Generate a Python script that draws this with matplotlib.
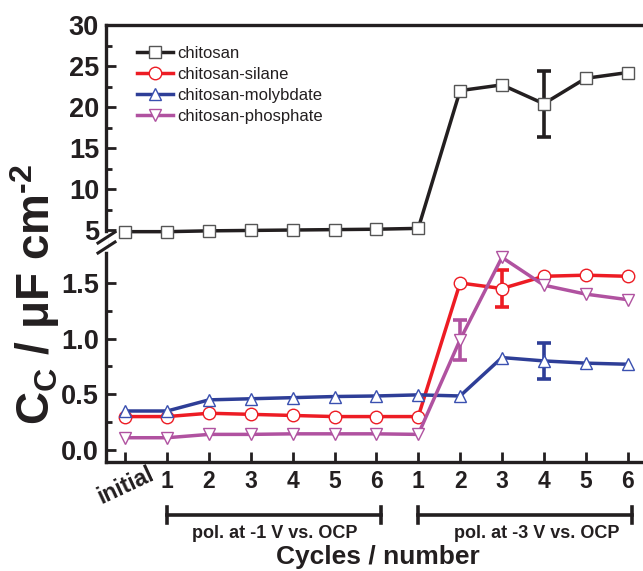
import matplotlib
matplotlib.use('Agg')
import matplotlib.pyplot as plt
import numpy as np
from matplotlib import transforms
from matplotlib.lines import Line2D

plt.rcParams['font.family'] = ['Liberation Sans', 'DejaVu Sans']
plt.rcParams['mathtext.fontset'] = 'custom'
plt.rcParams['mathtext.rm'] = 'Liberation Sans'
plt.rcParams['mathtext.bf'] = 'Liberation Sans:bold'
plt.rcParams['mathtext.it'] = 'Liberation Sans:italic'

# ---------------- data ----------------
x_labels = ['initial', '1', '2', '3', '4', '5', '6', '1', '2', '3', '4', '5', '6']
chitosan = [4.8, 4.8, 4.9, 4.95, 5.0, 5.05, 5.1, 5.2, 22.0, 22.7, 20.4, 23.5, 24.2]
chitosan_err = [0, 0, 0, 0, 0, 0, 0, 0, 0, 0, 4.0, 0, 0]
silane = [0.30, 0.30, 0.33, 0.32, 0.31, 0.30, 0.30, 0.30, 1.50, 1.45, 1.56, 1.57, 1.56]
silane_err = [0, 0, 0, 0, 0, 0, 0, 0, 0, 0.17, 0, 0, 0]
molybdate = [0.35, 0.35, 0.45, 0.46, 0.47, 0.48, 0.485, 0.495, 0.485, 0.83, 0.80, 0.78, 0.77]
molybdate_err = [0, 0, 0, 0, 0, 0, 0, 0, 0, 0, 0.165, 0, 0]
phosphate = [0.11, 0.11, 0.14, 0.14, 0.145, 0.145, 0.145, 0.14, 0.99, 1.73, 1.48, 1.40, 1.35]
phosphate_err = [0, 0, 0, 0, 0, 0, 0, 0, 0.18, 0, 0, 0, 0]
series_names = ['chitosan', 'chitosan-silane', 'chitosan-molybdate', 'chitosan-phosphate']
group_labels = ['pol. at -1 V vs. OCP', 'pol. at -3 V vs. OCP']

x = np.arange(len(x_labels))

W, H = 643, 571
fig = plt.figure(figsize=(W / 100, H / 100), dpi=100)

def fx(px):
    return px / W

def fy(py):
    return 1 - py / H

L = fx(106)
ax_top = fig.add_axes([L, fy(242), 1 - L, (242 - 25) / H])
ax_bot = fig.add_axes([L, fy(462), 1 - L, (462 - 244) / H])

xlim = (-0.46, 12.37)
INK = '#231f20'
for ax in (ax_top, ax_bot):
    ax.set_xlim(*xlim)
    ax.spines['right'].set_visible(False)
    for s in ax.spines.values():
        s.set_linewidth(2.4)
        s.set_color(INK)
    ax.tick_params(axis='y', which='major', direction='in', length=7, width=2,
                   pad=5, color=INK)
    ax.tick_params(axis='y', which='minor', direction='in', length=4, width=2,
                   color=INK)

ax_top.spines['bottom'].set_visible(False)
ax_bot.spines['top'].set_visible(False)
ax_top.set_ylim(3.54, 30)
ax_bot.set_ylim(-0.108, 1.85)

ax_top.set_yticks([5, 10, 15, 20, 25, 30])
ax_top.set_yticks([7.5, 12.5, 17.5, 22.5, 27.5], minor=True)
ax_top.set_yticklabels(['5', '10', '15', '20', '25', '30'], fontweight='bold',
                       fontsize=19.5, color=INK)
ax_top.set_xticks([])

ax_bot.set_yticks([0.0, 0.5, 1.0, 1.5])
ax_bot.set_yticks([0.25, 0.75, 1.25], minor=True)
ax_bot.set_yticklabels(['0.0', '0.5', '1.0', '1.5'], fontweight='bold', fontsize=19.5,
                       color=INK)
ax_bot.set_xticks(x)
ax_bot.set_xticklabels(x_labels, fontweight='bold', fontsize=16.5, color=INK)
ax_bot.tick_params(axis='x', direction='in', length=7, width=2, pad=6, color=INK)
first = ax_bot.get_xticklabels()[0]
first.set_rotation(25)
first.set_ha('center')
first.set_va('center')
first.set_y(-0.07)

styles = [
    (ax_top, chitosan, chitosan_err, INK, 's', '#555555'),
    (ax_bot, silane, silane_err, '#ed1c24', 'o', '#ed1c24'),
    (ax_bot, molybdate, molybdate_err, '#2e3e97', '^', '#3a50b0'),
    (ax_bot, phosphate, phosphate_err, '#b052a0', 'v', '#b052a0'),
]
handles = []
for (ax, y, err, col, mk, mec), name in zip(styles, series_names):
    y = np.array(y)
    err = np.array(err)
    m = err > 0
    ax.errorbar(x[m], y[m], yerr=err[m], fmt='none', ecolor=col, elinewidth=2.6,
                capsize=5, capthick=2.6, zorder=2)
    ln, = ax.plot(x, y, color=col, lw=2.5, marker=mk, ms=9, mfc='white',
                  mec=mec, mew=1.0, zorder=3, clip_on=False, label=name)
    handles.append(ln)

leg = ax_top.legend(handles=handles, loc='upper left', bbox_to_anchor=(0.045, 0.935),
                    frameon=False, fontsize=12, handlelength=2.2, handletextpad=0.25,
                    labelspacing=0.36, borderaxespad=0)
for t in leg.get_texts():
    t.set_color(INK)

# axis break marks on left spine
fig.add_artist(Line2D([fx(106), fx(106)], [fy(236), fy(249)], color='white',
                      lw=4, transform=fig.transFigure, zorder=5))
for dy in (0, 10):
    fig.add_artist(Line2D([fx(98), fx(115)], [fy(243 + dy), fy(232 + dy)],
                          color=INK, lw=2.2, transform=fig.transFigure, zorder=6))

# y label
fig.text(fx(35), fy(294), r'$\mathbf{C_C}$ / μF cm$^{\mathbf{‐2}}$', rotation=90,
         fontsize=33, fontweight='bold', ha='center', va='center', color=INK)

# group brackets
tr = transforms.blended_transform_factory(ax_bot.transData, fig.transFigure)
groups = [(1.0, 6.12), (7.0, 12.1)]
text_x = [3.56, 9.82]
for (a, b), tx, txt in zip(groups, text_x, group_labels):
    fig.add_artist(Line2D([a, b], [fy(515), fy(515)], color=INK, lw=2.6, transform=tr))
    for xx in (a, b):
        fig.add_artist(Line2D([xx, xx], [fy(507), fy(523)], color=INK, lw=2.6,
                              transform=tr))
    fig.text(tx, fy(533), txt, transform=tr, ha='center', va='center',
             fontsize=13, fontweight='bold', color=INK)

fig.text(fx(378), fy(557), 'Cycles / number', ha='center', va='center', fontsize=19,
         fontweight='bold', color=INK)

fig.savefig('out.png', dpi=100)
